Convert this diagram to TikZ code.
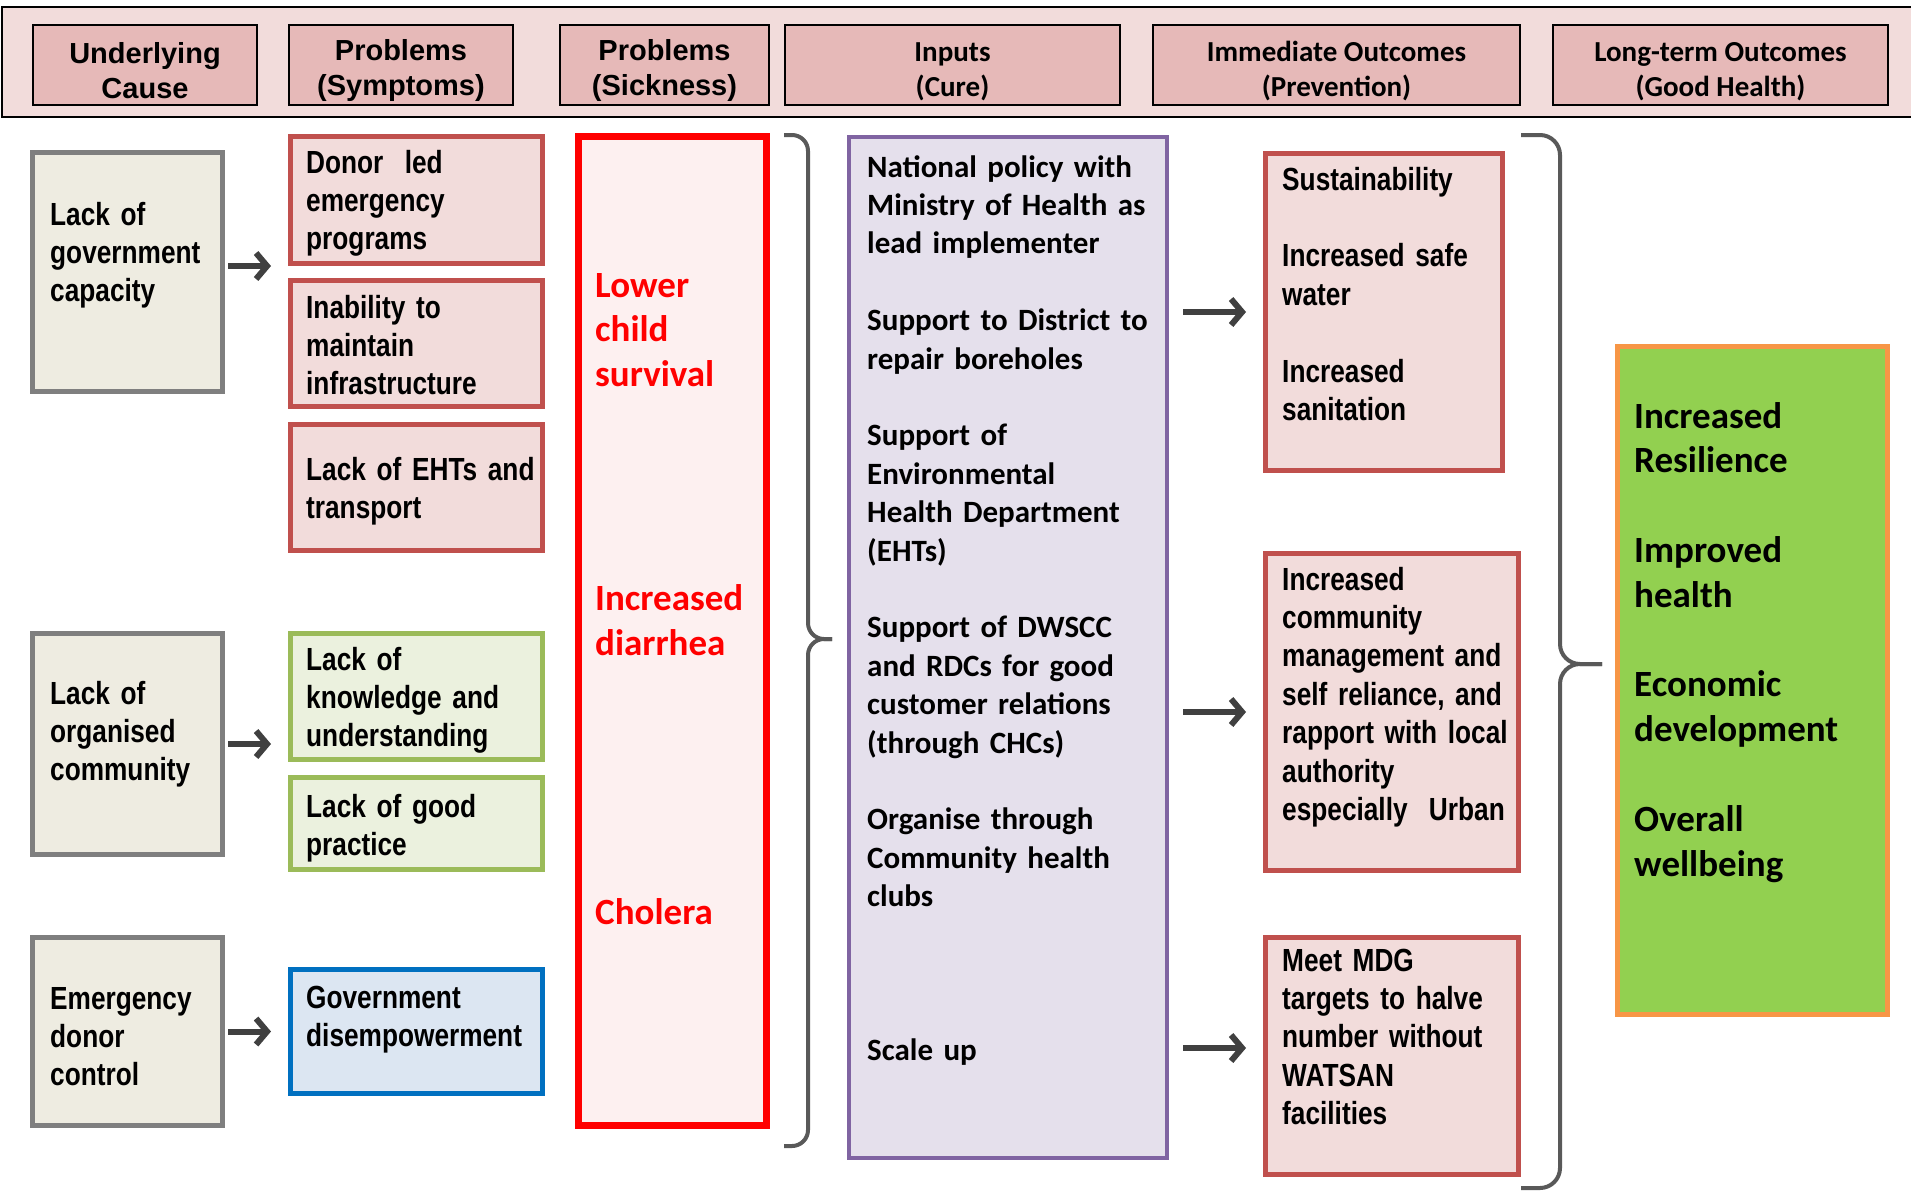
\documentclass[tikz,border=0pt]{standalone}
\usepackage{fontspec}
\setmainfont{Carlito}
\newfontfamily\narrowfont{Liberation Sans}[FakeStretch=0.82]
\newfontfamily\arialfont{Liberation Sans}
\usetikzlibrary{arrows.meta}

\definecolor{bandpink}{HTML}{F2DCDB}
\definecolor{headpink}{HTML}{E6B9B8}
\definecolor{causefill}{HTML}{EEECE1}
\definecolor{causegray}{HTML}{7F7F7F}
\definecolor{probfill}{HTML}{F2DCDB}
\definecolor{probred}{HTML}{C0504D}
\definecolor{knowfill}{HTML}{EBF1DE}
\definecolor{knowgreen}{HTML}{9BBB59}
\definecolor{govfill}{HTML}{DCE6F2}
\definecolor{govblue}{HTML}{0070C0}
\definecolor{sickfill}{HTML}{FDF0F0}
\definecolor{sickred}{HTML}{FF0000}
\definecolor{curefill}{HTML}{E5E0EC}
\definecolor{curepurple}{HTML}{8064A2}
\definecolor{goodgreen}{HTML}{92D050}
\definecolor{goodorange}{HTML}{F79646}
\definecolor{arrowgray}{HTML}{404040}
\definecolor{bracegray}{HTML}{595959}

\newcommand\headstrut{\rule{0pt}{33pt}}

\tikzset{
  box/.style={draw, anchor=north west, inner sep=0pt},
  headbox/.style={box, fill=headpink, draw=black, line width=2pt, align=center},
  causebox/.style={box, fill=causefill, draw=causegray, line width=5pt},
  probbox/.style={box, fill=probfill, draw=probred, line width=5pt},
  knowbox/.style={box, fill=knowfill, draw=knowgreen, line width=5pt},
  govbox/.style={box, fill=govfill, draw=govblue, line width=5pt},
  sickbox/.style={box, fill=sickfill, draw=sickred, line width=7pt},
  curebox/.style={box, fill=curefill, draw=curepurple, line width=4pt},
  goodbox/.style={box, fill=goodgreen, draw=goodorange, line width=5pt},
  arialhead/.style={font=\arialfont\bfseries\fontsize{29}{35}\selectfont},
  calhead/.style={font=\bfseries\fontsize{29}{35}\selectfont},
  txt/.style={anchor=base west, inner sep=0pt, align=left, text width=300pt},
  narrowtxt/.style={txt, font=\narrowfont\bfseries\fontsize{32}{38.4}\selectfont},
  caltxt/.style={txt, font=\bfseries\fontsize{31}{38.4}\selectfont},
  bigtxt/.style={txt, font=\bfseries\fontsize{37}{44.8}\selectfont},
  arr/.style={draw=arrowgray, line width=6pt, -{Straight Barb[length=11pt,width=26pt]},
    shorten <=3pt, shorten >=17pt},
  brc/.style={draw=bracegray, line width=4pt, rounded corners=16pt},
}

\begin{document}
\begin{tikzpicture}[x=1pt, y=-1pt]
\useasboundingbox (0,0) rectangle (1911,1192);

% header row
\draw[fill=bandpink, line width=2pt] (2,7) rectangle (1930,117);
\node[headbox, arialhead, minimum width=224pt, minimum height=80pt] (hcause) at (32,24) {\headstrut Underlying\\Cause};
\node[headbox, arialhead, minimum width=224pt, minimum height=80pt] (hsympt) at (288,24) {\headstrut Problems\\(Symptoms)};
\node[headbox, arialhead, minimum width=209pt, minimum height=80pt] (hsick) at (559,24) {\headstrut Problems\\(Sickness)};
\node[headbox, calhead, minimum width=335pt, minimum height=80pt] (hcure) at (784,24) {\headstrut Inputs\\(Cure)};
\node[headbox, calhead, minimum width=367pt, minimum height=80pt] (hprev) at (1152,24) {\headstrut Immediate Outcomes\\(Prevention)};
\node[headbox, calhead, minimum width=335pt, minimum height=80pt] (hgood) at (1552,24) {\headstrut Long-term Outcomes\\(Good Health)};

% underlying causes
\node[causebox, minimum width=190pt, minimum height=239pt] (govcap) at (30,150) {};
\node[causebox, minimum width=190pt, minimum height=221pt] (orgcom) at (30,631) {};
\node[causebox, minimum width=190pt, minimum height=188pt] (donorctl) at (30,935) {};
\node[narrowtxt] (govcaptxt) at (50,225) {Lack of\\government\\capacity};
\node[narrowtxt] (orgcomtxt) at (50,704) {Lack of\\organised\\community};
\node[narrowtxt] (donorctltxt) at (50,1009) {Emergency\\donor\\control};

% symptoms
\node[probbox, minimum width=252pt, minimum height=127pt] (donorled) at (288,134) {};
\node[probbox, minimum width=252pt, minimum height=126pt] (infra) at (288,278) {};
\node[probbox, minimum width=252pt, minimum height=126pt] (ehts) at (288,422) {};
\node[knowbox, minimum width=252pt, minimum height=126pt] (knowl) at (288,631) {};
\node[knowbox, minimum width=252pt, minimum height=92pt] (practice) at (288,775) {};
\node[govbox, minimum width=252pt, minimum height=124pt] (disemp) at (288,967) {};
\node[narrowtxt] (donorledtxt) at (306,173) {Donor\ \ led\\emergency\\programs};
\node[narrowtxt] (infratxt) at (306,318) {Inability to\\maintain\\infrastructure};
\node[narrowtxt] (ehtstxt) at (306,480) {Lack of EHTs and\\transport};
\node[narrowtxt] (knowltxt) at (306,670) {Lack of\\knowledge and\\understanding};
\node[narrowtxt] (practicetxt) at (306,817) {Lack of good\\practice};
\node[narrowtxt] (disemptxt) at (306,1008) {Government\\disempowerment};

% sickness
\node[sickbox, minimum width=188pt, minimum height=989pt] (sick) at (575,133) {};
\node[bigtxt, text=sickred] (sicktxt) at (595,297) {Lower\\child\\survival\\[179.2pt]Increased\\diarrhea\\[224pt]Cholera};

% inputs
\node[curebox, minimum width=318pt, minimum height=1021pt] (cure) at (847,135) {};
\node[caltxt] (curetxt) at (867,177) {National policy with\\Ministry of Health as\\lead implementer\\[38.4pt]
  Support to District to\\repair boreholes\\[38.4pt]
  Support of\\Environmental\\Health Department\\(EHTs)\\[38.4pt]
  Support of DWSCC\\and RDCs for good\\customer relations\\(through CHCs)\\[38.4pt]
  Organise through\\Community health\\clubs\\[115.2pt]
  Scale up};

% immediate outcomes
\node[probbox, minimum width=237pt, minimum height=317pt] (sustain) at (1263,151) {};
\node[probbox, minimum width=253pt, minimum height=317pt] (commun) at (1263,551) {};
\node[probbox, minimum width=253pt, minimum height=237pt] (mdg) at (1263,935) {};
\node[narrowtxt] (sustaintxt) at (1282,190) {Sustainability\\[38.4pt]Increased safe\\water\\[38.4pt]Increased\\sanitation};
\node[narrowtxt] (communtxt) at (1282,590) {Increased\\community\\management and\\self reliance, and\\rapport with local\\authority\\especially\ \ Urban};
\node[narrowtxt] (mdgtxt) at (1282,971) {Meet MDG\\targets to halve\\number without\\WATSAN\\facilities};

% long-term outcomes
\node[goodbox, minimum width=270pt, minimum height=668pt] (health) at (1615,344) {};
\node[bigtxt] (healthtxt) at (1634,428) {Increased\\Resilience\\[44.8pt]Improved\\health\\[44.8pt]Economic\\development\\[44.8pt]Overall\\wellbeing};

% arrows
\draw[arr] (govcap.east |- donorled.south west) -- (donorled.south west);
\draw[arr] (orgcom.east) -- (orgcom.east -| knowl.west);
\draw[arr] (donorctl.east) -- (donorctl.east -| disemp.west);
\draw[arr, shorten <=14pt] (cure.east |- sustain.west) -- (sustain.west);
\draw[arr, shorten <=14pt] (cure.east |- commun.west) -- (commun.west);
\draw[arr, shorten <=14pt] ([yshift=8pt]cure.east |- mdg.west) -- ([yshift=8pt]mdg.west);

% braces
\draw[brc] (784,135) -| (808,639) -- (832,639);
\draw[brc] (832,639) -- (808,639) |- (784,1146);
\draw[brc, rounded corners=20pt] (1521,135) -| (1560,664) -- (1602,664);
\draw[brc, rounded corners=20pt] (1602,664) -- (1560,664) |- (1521,1188);
\end{tikzpicture}
\end{document}
